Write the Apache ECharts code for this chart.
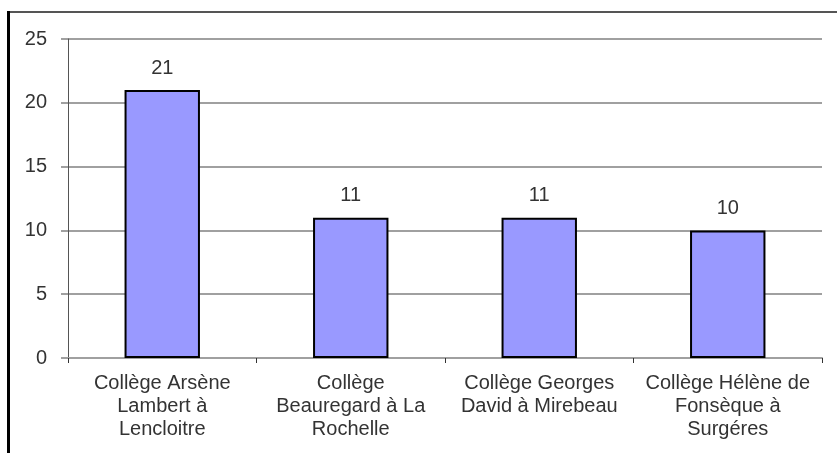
<!DOCTYPE html>
<html>
<head>
<meta charset="utf-8">
<script src="https://cdn.jsdelivr.net/npm/echarts@6/dist/echarts.min.js"></script>
<style>
html,body{margin:0;padding:0;background:#fff;}
#c{width:837px;height:453px;}
</style>
</head>
<body>
<div id="c"></div>
<script>
var categories = [
  "Collège Arsène\nLambert à\nLencloitre",
  "Collège\nBeauregard à La\nRochelle",
  "Collège Georges\nDavid à Mirebeau",
  "Collège Hélène de\nFonsèque à\nSurgéres"
];
var values = [21, 11, 11, 10];
var yTicks = [0, 5, 10, 15, 20, 25];

var chart = echarts.init(document.getElementById('c'), null, {renderer: 'canvas'});
var font = 'Liberation Sans, Arial, sans-serif';
chart.setOption({
  animation: false,
  backgroundColor: '#fff',
  grid: {left: 68, right: 15, top: 39, bottom: 95},
  graphic: [
    {type: 'line', shape: {x1: 8, y1: 12, x2: 837, y2: 12}, style: {stroke: '#555', lineWidth: 2}},
    {type: 'line', shape: {x1: 8.5, y1: 11, x2: 8.5, y2: 453}, style: {stroke: '#000', lineWidth: 3}}
  ],
  xAxis: {
    type: 'category',
    data: categories,
    axisLine: {show: true, lineStyle: {color: '#a0a0a0', width: 2}},
    axisTick: {show: true, length: 5, lineStyle: {color: '#333', width: 1}},
    axisLabel: {color: '#333', fontSize: 20, fontFamily: font, lineHeight: 23, margin: 14, interval: 0}
  },
  yAxis: {
    type: 'value',
    min: yTicks[0],
    max: yTicks[yTicks.length - 1],
    interval: 5,
    axisLine: {show: true, lineStyle: {color: '#555', width: 1}},
    axisTick: {show: true, length: 7, lineStyle: {color: '#a0a0a0', width: 2}},
    splitLine: {show: true, lineStyle: {color: '#a0a0a0', width: 2}},
    axisLabel: {color: '#333', fontSize: 20, fontFamily: font, margin: 21}
  },
  series: [{
    type: 'bar',
    data: values,
    barWidth: '40%',
    itemStyle: {color: '#9999ff', borderColor: '#000', borderWidth: 2},
    label: {show: true, position: 'top', distance: 12, color: '#333', fontSize: 20, fontFamily: font}
  }]
});
</script>
</body>
</html>
